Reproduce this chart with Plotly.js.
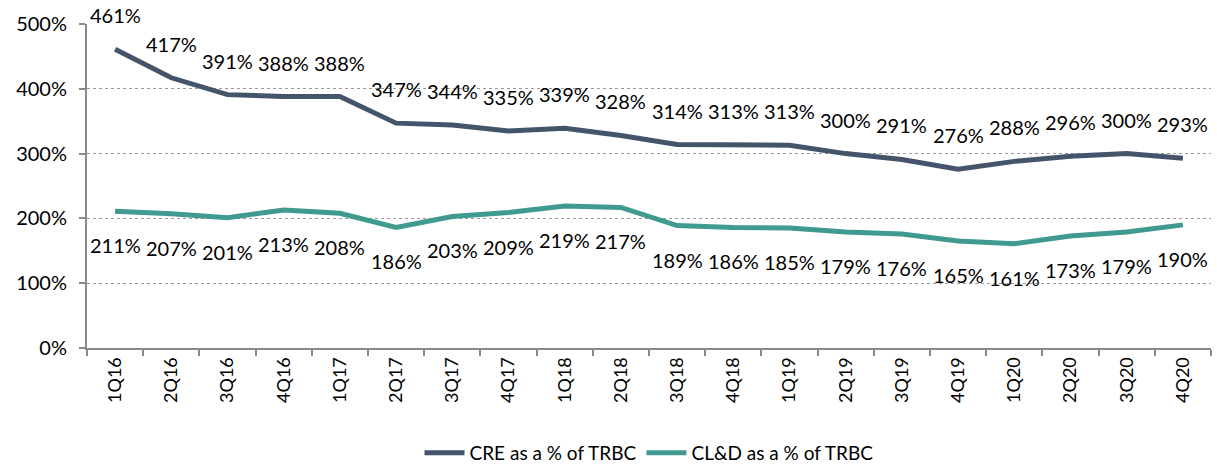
<!DOCTYPE html>
<html><head><meta charset="utf-8">
<script src="https://cdn.plot.ly/plotly-3.0.1.min.js"></script>
<style>html,body{margin:0;padding:0;background:#fff;}#chart{width:1217px;height:466px;}</style>
</head><body><div id="chart"></div>
<script>
const quarters = ["1Q16","2Q16","3Q16","4Q16","1Q17","2Q17","3Q17","4Q17","1Q18","2Q18","3Q18","4Q18","1Q19","2Q19","3Q19","4Q19","1Q20","2Q20","3Q20","4Q20"];
const creValues = [461,417,391,388,388,347,344,335,339,328,314,313,313,300,291,276,288,296,300,293];
const cldValues = [211,207,201,213,208,186,203,209,219,217,189,186,185,179,176,165,161,173,179,190];
const seriesNames = ["CRE as a % of TRBC","CL&D as a % of TRBC"];

const FONT = "Lato, 'Open Sans', sans-serif";
const traces = [
  {x: quarters, y: creValues, name: seriesNames[0], type: "scatter", mode: "lines",
   line: {color: "#44546A", width: 5}, hoverinfo: "skip"},
  {x: quarters, y: cldValues, name: seriesNames[1], type: "scatter", mode: "lines",
   line: {color: "#409A8F", width: 5}, hoverinfo: "skip"}
];
const annotations = [];
quarters.forEach((q, i) => {
  annotations.push({x: q, y: creValues[i], text: creValues[i] + "%", showarrow: false,
    yanchor: "middle", xanchor: "center", yshift: 34, font: {family: FONT, size: 20, color: "#000"}});
  annotations.push({x: q, y: cldValues[i], text: cldValues[i] + "%", showarrow: false,
    yanchor: "middle", xanchor: "center", yshift: -34, font: {family: FONT, size: 20, color: "#000"}});
});

const layout = {
  width: 1217, height: 466,
  margin: {l: 87, r: 6, t: 24, b: 118, autoexpand: false},
  paper_bgcolor: "#fff", plot_bgcolor: "#fff",
  font: {family: FONT, size: 20, color: "#000"},
  showlegend: true,
  legend: {orientation: "h", x: 0.5, xanchor: "center", y: -0.324, yanchor: "middle",
    font: {family: FONT, size: 19, color: "#000"}, itemwidth: 40, traceorder: "normal"},
  xaxis: {type: "category", showgrid: false, showline: true, linecolor: "#898989", linewidth: 2,
    ticks: "outside", tickson: "boundaries", ticklen: 6, tickcolor: "#898989", tickwidth: 2,
    tickangle: -90, tickfont: {family: FONT, size: 18, color: "#000"}, zeroline: false,
    range: [-0.5, 19.5], fixedrange: true, automargin: false},
  yaxis: {range: [0, 500], dtick: 100, ticksuffix: "%", showgrid: true, gridcolor: "#9a9a9a",
    griddash: "dot", gridwidth: 1, showline: true, linecolor: "#898989", linewidth: 2,
    ticks: "outside", ticklen: 6, tickcolor: "#898989", tickwidth: 2, zeroline: false,
    ticklabelstandoff: 8, tickfont: {family: FONT, size: 20, color: "#000"}, fixedrange: true, automargin: false},
  annotations: annotations
};
Plotly.newPlot("chart", traces, layout, {displayModeBar: false, staticPlot: true});
</script></body></html>
